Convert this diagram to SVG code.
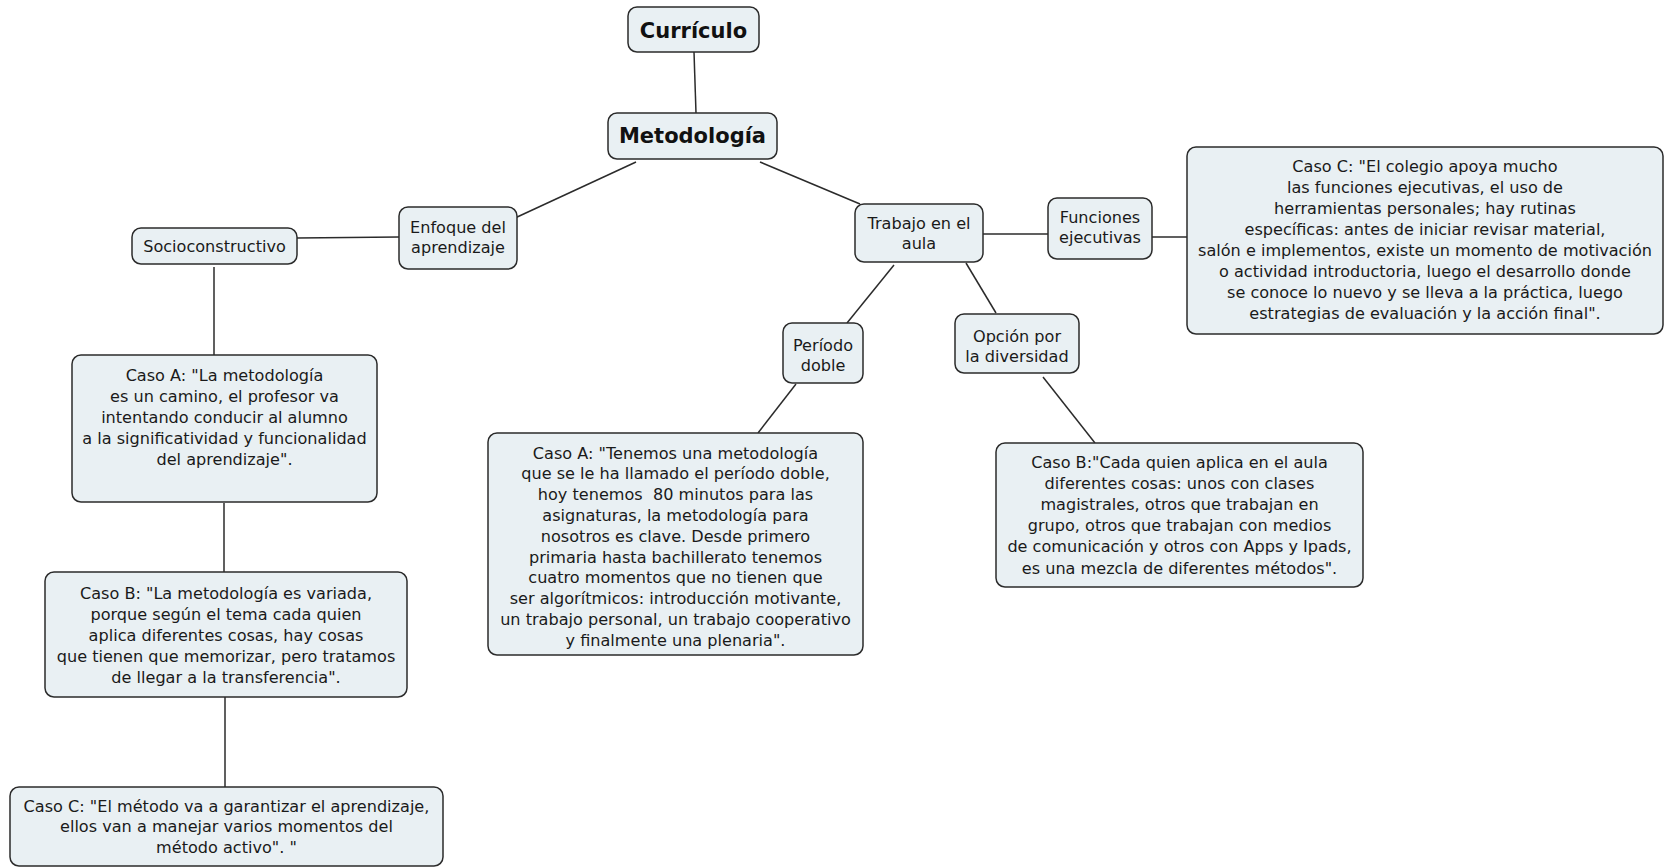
<svg xmlns="http://www.w3.org/2000/svg" width="1665" height="867" viewBox="0 0 1665 867">
  <style>
    .box { fill: #e9f0f3; stroke: #2b2b2b; stroke-width: 1.5; }
    .lbl { font-family: "DejaVu Sans", Verdana, sans-serif; font-size: 16.1px; fill: #1a1a1a; text-anchor: middle; }
    .ttl { font-family: "DejaVu Sans", Verdana, sans-serif; font-size: 21px; font-weight: bold; fill: #111; text-anchor: middle; }
    .link { stroke: #2b2b2b; stroke-width: 1.5; fill: none; }
  </style>
  <rect width="1665" height="867" fill="#ffffff"/>

  <g id="connectors">
    <line class="link" x1="694" y1="52" x2="696" y2="113"/>
    <line class="link" x1="636" y1="162" x2="515" y2="218"/>
    <line class="link" x1="760" y1="162" x2="860" y2="204"/>
    <line class="link" x1="297" y1="238" x2="399" y2="237"/>
    <line class="link" x1="214" y1="267" x2="214" y2="355"/>
    <line class="link" x1="224" y1="503" x2="224" y2="572"/>
    <line class="link" x1="225" y1="697" x2="225" y2="787"/>
    <line class="link" x1="983" y1="234" x2="1048" y2="234"/>
    <line class="link" x1="1152" y1="237" x2="1187" y2="237"/>
    <line class="link" x1="894" y1="265" x2="847" y2="323"/>
    <line class="link" x1="966" y1="263" x2="996" y2="313"/>
    <line class="link" x1="796" y1="384" x2="758" y2="433"/>
    <line class="link" x1="1043" y1="377" x2="1095" y2="443"/>
  </g>

  <g id="curriculo">
    <rect class="box" x="628" y="7" width="131" height="45" rx="9"/>
    <text class="ttl" x="693.5" y="38">Currículo</text>
  </g>

  <g id="metodologia">
    <rect class="box" x="608" y="113" width="169" height="46" rx="9"/>
    <text class="ttl" x="692.5" y="143">Metodología</text>
  </g>

  <g id="enfoque">
    <rect class="box" x="399" y="207" width="118" height="62" rx="9"/>
    <text class="lbl" x="458" y="232.5">Enfoque del<tspan x="458" dy="20.5">aprendizaje</tspan></text>
  </g>

  <g id="socioconstructivo">
    <rect class="box" x="132" y="228" width="165" height="36" rx="9"/>
    <text class="lbl" x="214.5" y="251.5">Socioconstructivo</text>
  </g>

  <g id="caso-a-socio">
    <rect class="box" x="72" y="355" width="305" height="147" rx="9"/>
    <text class="lbl" x="224.5" y="380.5">Caso A: "La metodología<tspan x="224.5" dy="21.2">es un camino, el profesor va</tspan><tspan x="224.5" dy="21.2">intentando conducir al alumno</tspan><tspan x="224.5" dy="21.2">a la significatividad y funcionalidad</tspan><tspan x="224.5" dy="21.2">del aprendizaje".</tspan></text>
  </g>

  <g id="caso-b-socio">
    <rect class="box" x="45" y="572" width="362" height="125" rx="9"/>
    <text class="lbl" x="226" y="598.5">Caso B: "La metodología es variada,<tspan x="226" dy="21">porque según el tema cada quien</tspan><tspan x="226" dy="21">aplica diferentes cosas, hay cosas</tspan><tspan x="226" dy="21">que tienen que memorizar, pero tratamos</tspan><tspan x="226" dy="21">de llegar a la transferencia".</tspan></text>
  </g>

  <g id="caso-c-socio">
    <rect class="box" x="10" y="787" width="433" height="79" rx="9"/>
    <text class="lbl" x="226.5" y="811.5">Caso C: "El método va a garantizar el aprendizaje,<tspan x="226.5" dy="20.8">ellos van a manejar varios momentos del</tspan><tspan x="226.5" dy="20.8">método activo". "</tspan></text>
  </g>

  <g id="trabajo">
    <rect class="box" x="855" y="204" width="128" height="58" rx="9"/>
    <text class="lbl" x="919" y="228.5">Trabajo en el<tspan x="919" dy="20.5">aula</tspan></text>
  </g>

  <g id="funciones">
    <rect class="box" x="1048" y="198" width="104" height="61" rx="9"/>
    <text class="lbl" x="1100" y="222.5">Funciones<tspan x="1100" dy="20.5">ejecutivas</tspan></text>
  </g>

  <g id="caso-c-funciones">
    <rect class="box" x="1187" y="147" width="476" height="187" rx="9"/>
    <text class="lbl" x="1425" y="171.5">Caso C: "El colegio apoya mucho<tspan x="1425" dy="21">las funciones ejecutivas, el uso de</tspan><tspan x="1425" dy="21">herramientas personales; hay rutinas</tspan><tspan x="1425" dy="21">específicas: antes de iniciar revisar material,</tspan><tspan x="1425" dy="21">salón e implementos, existe un momento de motivación</tspan><tspan x="1425" dy="21">o actividad introductoria, luego el desarrollo donde</tspan><tspan x="1425" dy="21">se conoce lo nuevo y se lleva a la práctica, luego</tspan><tspan x="1425" dy="21">estrategias de evaluación y la acción final".</tspan></text>
  </g>

  <g id="periodo">
    <rect class="box" x="783" y="323" width="80" height="60" rx="9"/>
    <text class="lbl" x="823" y="350.5">Período<tspan x="823" dy="20.5">doble</tspan></text>
  </g>

  <g id="caso-a-periodo">
    <rect class="box" x="488" y="433" width="375" height="222" rx="9"/>
    <text class="lbl" x="675.5" y="458.5" xml:space="preserve">Caso A: "Tenemos una metodología<tspan x="675.5" dy="20.8">que se le ha llamado el período doble,</tspan><tspan x="675.5" dy="20.8">hoy tenemos  80 minutos para las</tspan><tspan x="675.5" dy="20.8">asignaturas, la metodología para</tspan><tspan x="675.5" dy="20.8">nosotros es clave. Desde primero</tspan><tspan x="675.5" dy="20.8">primaria hasta bachillerato tenemos</tspan><tspan x="675.5" dy="20.8">cuatro momentos que no tienen que</tspan><tspan x="675.5" dy="20.8">ser algorítmicos: introducción motivante,</tspan><tspan x="675.5" dy="20.8">un trabajo personal, un trabajo cooperativo</tspan><tspan x="675.5" dy="20.8">y finalmente una plenaria".</tspan></text>
  </g>

  <g id="opcion">
    <rect class="box" x="955" y="314" width="124" height="59" rx="9"/>
    <text class="lbl" x="1017" y="341.5">Opción por<tspan x="1017" dy="20.5">la diversidad</tspan></text>
  </g>

  <g id="caso-b-opcion">
    <rect class="box" x="996" y="443" width="367" height="144" rx="9"/>
    <text class="lbl" x="1179.5" y="467.5">Caso B:"Cada quien aplica en el aula<tspan x="1179.5" dy="21.2">diferentes cosas: unos con clases</tspan><tspan x="1179.5" dy="21.2">magistrales, otros que trabajan en</tspan><tspan x="1179.5" dy="21.2">grupo, otros que trabajan con medios</tspan><tspan x="1179.5" dy="21.2">de comunicación y otros con Apps y Ipads,</tspan><tspan x="1179.5" dy="21.2">es una mezcla de diferentes métodos".</tspan></text>
  </g>
</svg>
